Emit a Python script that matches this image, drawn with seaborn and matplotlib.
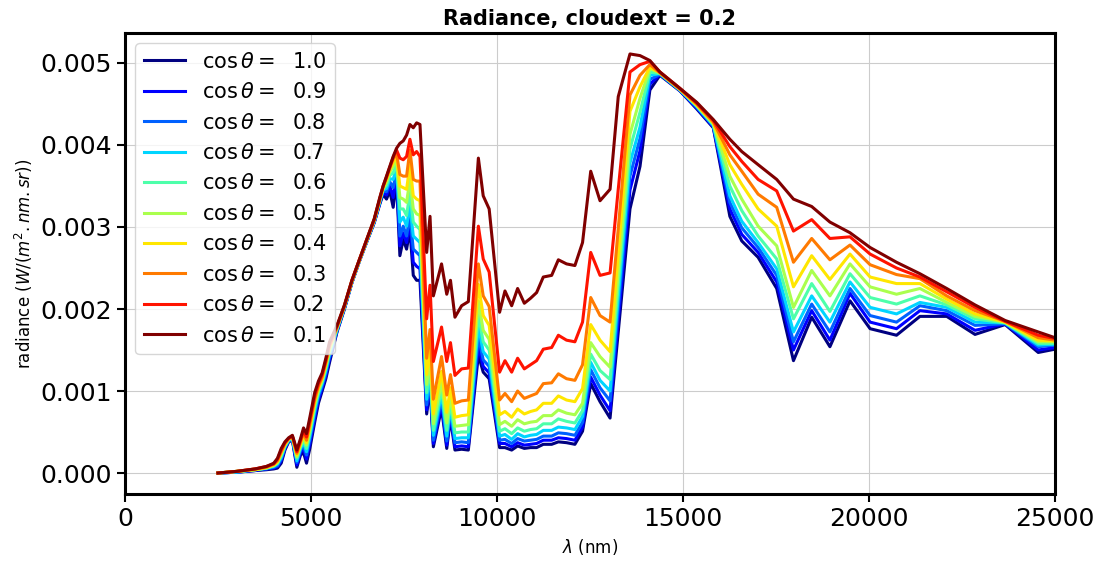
import numpy as np
import pandas as pd
import matplotlib
matplotlib.use("Agg")
import matplotlib.pyplot as plt
import seaborn as sns
from matplotlib.ticker import FormatStrFormatter

# wavelength grid (nm)
wavelength = [2500, 3000, 3500, 3800, 4000, 4100, 4200, 4300, 4400, 4500,
              4620, 4720, 4800, 4880, 4970, 5100, 5200, 5300, 5400, 5500,
              5700, 5900, 6100, 6300, 6500, 6700, 6850, 6940, 7030, 7120,
              7210, 7300, 7390, 7480, 7570, 7660, 7750, 7840, 7930, 8110,
              8200, 8290, 8510, 8650, 8750, 8870, 9050, 9230, 9500, 9630,
              9790, 10070, 10215, 10395, 10555, 10735, 10900, 11065, 11245, 11470,
              11650, 11870, 12095, 12300, 12520, 12770, 13040, 13260, 13575, 13845,
              14110, 14380, 14920, 15370, 15815, 16260, 16580, 17020, 17520, 17970,
              18460, 18950, 19490, 20030, 20740, 21370, 22090, 22850, 23660, 24550, 25000]

# radiance in units of 1e-3 W/(m2.nm.sr), one list per cos(theta)
rad_10 = [0, .01, .03, .04, .05, .06, .12, .28, .38, .40,
          .07, .22, .25, .12, .30, .62, .85, 1.00, 1.15, 1.35,
          1.72, 2.00, 2.32, 2.58, 2.82, 3.05, 3.28, 3.40, 3.34, 3.44,
          3.24, 3.56, 2.65, 2.85, 2.73, 2.97, 2.41, 2.35, 2.35, .72,
          1.05, .32, .79, .30, .67, .28, .29, .28, 1.44, 1.23,
          1.15, .31, .31, .28, .33, .30, .31, .31, .35, .35,
          .38, .37, .35, .51, 1.09, .87, .67, 1.72, 3.22, 3.74,
          4.67, 4.85, 4.66, 4.44, 4.21, 3.13, 2.83, 2.63, 2.25, 1.37,
          1.90, 1.54, 2.10, 1.76, 1.68, 1.91, 1.91, 1.69, 1.81, 1.47, 1.51]
rad_09 = [0, .01, .03, .05, .06, .08, .15, .30, .39, .41,
          .10, .25, .30, .17, .36, .67, .89, 1.03, 1.19, 1.39,
          1.73, 2.01, 2.32, 2.58, 2.82, 3.06, 3.29, 3.42, 3.39, 3.50,
          3.36, 3.63, 2.77, 2.93, 2.81, 3.06, 2.57, 2.52, 2.49, .77,
          1.11, .36, .84, .34, .71, .32, .33, .32, 1.55, 1.30,
          1.22, .36, .36, .32, .37, .34, .35, .36, .40, .40,
          .43, .42, .40, .56, 1.17, .95, .76, 1.86, 3.45, 3.93,
          4.74, 4.86, 4.66, 4.45, 4.22, 3.22, 2.91, 2.69, 2.33, 1.50,
          1.98, 1.62, 2.19, 1.84, 1.76, 1.98, 1.94, 1.74, 1.82, 1.50, 1.53]
rad_08 = [0, .01, .04, .05, .07, .09, .17, .31, .39, .42,
          .13, .28, .33, .22, .41, .72, .93, 1.06, 1.22, 1.42,
          1.74, 2.01, 2.33, 2.59, 2.83, 3.06, 3.30, 3.44, 3.43, 3.55,
          3.48, 3.69, 2.89, 3.01, 2.89, 3.14, 2.73, 2.69, 2.65, .83,
          1.17, .40, .90, .39, .75, .37, .38, .37, 1.66, 1.38,
          1.30, .40, .41, .36, .42, .39, .40, .41, .45, .45,
          .49, .48, .46, .62, 1.26, 1.04, .88, 2.00, 3.62, 4.08,
          4.80, 4.86, 4.67, 4.46, 4.23, 3.30, 2.99, 2.75, 2.41, 1.60,
          2.06, 1.72, 2.25, 1.92, 1.84, 2.04, 1.98, 1.80, 1.82, 1.54, 1.56]
rad_07 = [0, .01, .04, .06, .08, .11, .19, .32, .40, .42,
          .15, .30, .37, .26, .45, .76, .96, 1.09, 1.25, 1.45,
          1.75, 2.02, 2.33, 2.59, 2.83, 3.07, 3.31, 3.45, 3.47, 3.59,
          3.58, 3.73, 3.06, 3.12, 3.01, 3.26, 2.89, 2.85, 2.81, .90,
          1.24, .46, .96, .45, .80, .42, .43, .43, 1.79, 1.48,
          1.39, .45, .47, .41, .48, .44, .46, .47, .52, .52,
          .56, .55, .53, .69, 1.35, 1.13, 1.00, 2.14, 3.78, 4.22,
          4.85, 4.87, 4.67, 4.47, 4.24, 3.38, 3.07, 2.81, 2.49, 1.72,
          2.16, 1.84, 2.33, 2.02, 1.94, 2.08, 2.02, 1.84, 1.83, 1.56, 1.57]
rad_06 = [0, .02, .04, .06, .09, .12, .21, .33, .41, .43,
          .18, .32, .40, .30, .49, .80, .99, 1.11, 1.28, 1.48,
          1.76, 2.03, 2.33, 2.59, 2.83, 3.08, 3.32, 3.46, 3.51, 3.63,
          3.66, 3.77, 3.22, 3.22, 3.14, 3.42, 3.06, 3.01, 2.97, .98,
          1.32, .52, 1.03, .52, .86, .49, .50, .50, 1.93, 1.60,
          1.50, .51, .54, .48, .55, .51, .53, .54, .60, .60,
          .66, .63, .61, .76, 1.45, 1.25, 1.14, 2.29, 3.95, 4.40,
          4.89, 4.87, 4.67, 4.48, 4.25, 3.50, 3.20, 2.89, 2.61, 1.88,
          2.31, 1.97, 2.43, 2.14, 2.06, 2.16, 2.05, 1.88, 1.83, 1.58, 1.58]
rad_05 = [0, .02, .04, .06, .09, .13, .23, .34, .41, .44,
          .20, .34, .43, .34, .53, .84, 1.01, 1.13, 1.30, 1.50,
          1.77, 2.03, 2.34, 2.59, 2.84, 3.08, 3.33, 3.47, 3.55, 3.67,
          3.74, 3.82, 3.36, 3.34, 3.30, 3.58, 3.22, 3.16, 3.14, 1.08,
          1.42, .60, 1.12, .61, .94, .57, .58, .59, 2.10, 1.74,
          1.63, .59, .63, .57, .65, .60, .62, .63, .70, .70,
          .77, .73, .71, .85, 1.59, 1.42, 1.29, 2.46, 4.13, 4.57,
          4.93, 4.88, 4.68, 4.48, 4.26, 3.62, 3.34, 3.01, 2.77, 2.02,
          2.47, 2.16, 2.55, 2.27, 2.18, 2.25, 2.08, 1.91, 1.84, 1.60, 1.60]
rad_04 = [0, .02, .04, .07, .10, .14, .25, .35, .42, .44,
          .22, .36, .46, .37, .57, .87, 1.04, 1.15, 1.33, 1.53,
          1.78, 2.04, 2.34, 2.59, 2.84, 3.09, 3.34, 3.48, 3.58, 3.70,
          3.79, 3.86, 3.50, 3.48, 3.46, 3.76, 3.38, 3.34, 3.32, 1.20,
          1.55, .72, 1.24, .74, 1.04, .68, .70, .71, 2.30, 1.92,
          1.80, .71, .75, .68, .78, .72, .75, .77, .85, .85,
          .94, .89, .87, 1.03, 1.81, 1.62, 1.48, 2.68, 4.41, 4.71,
          4.95, 4.88, 4.68, 4.49, 4.27, 3.76, 3.52, 3.22, 3.01, 2.27,
          2.65, 2.36, 2.67, 2.39, 2.31, 2.31, 2.12, 1.94, 1.84, 1.62, 1.61]
rad_03 = [0, .02, .05, .07, .11, .15, .26, .36, .42, .45,
          .24, .38, .49, .40, .60, .90, 1.06, 1.17, 1.35, 1.55,
          1.78, 2.04, 2.34, 2.60, 2.84, 3.09, 3.34, 3.49, 3.60, 3.72,
          3.83, 3.90, 3.64, 3.62, 3.62, 3.94, 3.58, 3.56, 3.56, 1.40,
          1.75, .90, 1.42, .95, 1.20, .85, .88, .89, 2.55, 2.16,
          2.03, .89, .97, .87, 1.00, .91, .94, .97, 1.09, 1.10,
          1.21, 1.15, 1.13, 1.32, 2.14, 1.92, 1.84, 2.98, 4.61, 4.85,
          4.98, 4.88, 4.68, 4.50, 4.28, 3.88, 3.68, 3.40, 3.24, 2.57,
          2.86, 2.60, 2.78, 2.54, 2.42, 2.37, 2.16, 1.98, 1.85, 1.65, 1.62]
rad_02 = [0, .02, .05, .08, .11, .17, .28, .37, .42, .45,
          .26, .40, .52, .44, .64, .94, 1.09, 1.20, 1.37, 1.57,
          1.79, 2.04, 2.35, 2.60, 2.85, 3.09, 3.35, 3.50, 3.61, 3.73,
          3.85, 3.94, 3.84, 3.82, 3.86, 4.07, 3.88, 3.92, 3.86, 1.88,
          2.29, 1.36, 1.78, 1.36, 1.59, 1.19, 1.27, 1.28, 3.01, 2.61,
          2.45, 1.23, 1.37, 1.23, 1.40, 1.27, 1.32, 1.37, 1.51, 1.53,
          1.68, 1.62, 1.60, 1.84, 2.69, 2.41, 2.44, 3.46, 4.89, 4.98,
          5.02, 4.89, 4.69, 4.51, 4.30, 3.98, 3.80, 3.58, 3.44, 2.95,
          3.09, 2.86, 2.88, 2.67, 2.50, 2.39, 2.21, 2.02, 1.85, 1.68, 1.64]
rad_01 = [0, .02, .05, .08, .12, .18, .30, .38, .43, .46,
          .28, .42, .55, .48, .68, .98, 1.12, 1.22, 1.40, 1.60,
          1.80, 2.05, 2.35, 2.60, 2.85, 3.10, 3.36, 3.50, 3.62, 3.74,
          3.86, 3.96, 4.02, 4.05, 4.12, 4.25, 4.21, 4.27, 4.25, 2.69,
          3.13, 2.16, 2.55, 2.18, 2.35, 1.90, 2.04, 2.09, 3.84, 3.38,
          3.22, 1.96, 2.22, 2.04, 2.25, 2.07, 2.13, 2.20, 2.39, 2.41,
          2.60, 2.55, 2.53, 2.81, 3.68, 3.32, 3.46, 4.59, 5.11, 5.09,
          5.03, 4.89, 4.69, 4.52, 4.31, 4.07, 3.92, 3.76, 3.58, 3.34,
          3.25, 3.06, 2.93, 2.75, 2.57, 2.43, 2.25, 2.05, 1.86, 1.72, 1.65]

cos_values = [1.0, 0.9, 0.8, 0.7, 0.6, 0.5, 0.4, 0.3, 0.2, 0.1]
series = [rad_10, rad_09, rad_08, rad_07, rad_06, rad_05, rad_04, rad_03, rad_02, rad_01]
labels = [f"$\\cos\\theta = $  {mu:.1f}" for mu in cos_values]

frames = []
for lab, vals in zip(labels, series):
    assert len(vals) == len(wavelength), lab
    frames.append(pd.DataFrame({'wl': wavelength,
                                'rad': np.array(vals) * 1e-3,
                                'label': lab}))
df = pd.concat(frames, ignore_index=True)

colors = [plt.cm.jet(v) for v in np.linspace(0, 1, len(cos_values))]

fig = plt.figure(figsize=(11.04, 5.71), dpi=100)
ax = fig.add_axes([0.1132, 0.1349, 0.8424, 0.8073])

sns.lineplot(data=df, x='wl', y='rad', hue='label', hue_order=labels,
             palette=colors, linewidth=2.2, sort=False, estimator=None, ax=ax)

ax.set_xlim(0, 25000)
ax.yaxis.set_major_formatter(FormatStrFormatter('%.3f'))
ax.grid(True, color='#cccccc', linewidth=0.8)
ax.set_axisbelow(True)
ax.tick_params(axis='both', labelsize=18, width=1.5, length=6)
for sp in ax.spines.values():
    sp.set_linewidth(2.2)
    sp.set_color('black')

ax.set_title('Radiance, cloudext = 0.2', fontsize=15, fontweight='bold')
ax.set_xlabel(r'$\lambda$ (nm)', fontsize=12)
ax.set_ylabel(r'radiance ($W/(m^2.nm.sr)$)', fontsize=12)

handles, labs = ax.get_legend_handles_labels()
ax.legend(handles, labs, loc='upper left', fontsize=15)

fig.savefig('out.png', dpi=100, facecolor='white')
